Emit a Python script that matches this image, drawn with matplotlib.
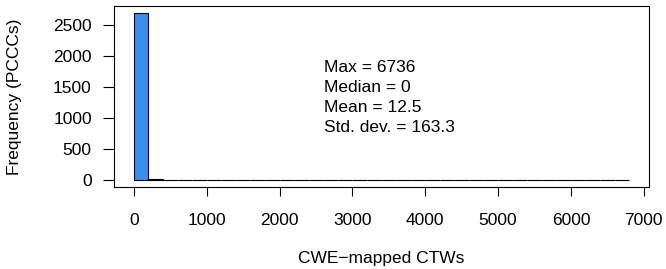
import matplotlib.pyplot as plt

plt.rcParams['font.family'] = ['Liberation Sans', 'DejaVu Sans']

# histogram bins of width 200 from 0 to 6800
bin_width = 200
bin_edges = list(range(0, 6800, bin_width))
counts = [2690, 25, 2, 2, 1, 1, 0, 1, 0, 1, 0, 1, 0, 0, 0, 0,
          1, 0, 0, 0, 0, 0, 0, 0, 0, 0, 0, 0, 0, 0, 0, 0, 0, 1]

stats_lines = ["Max = 6736", "Median = 0", "Mean = 12.5", "Std. dev. = 163.3"]
x_ticks = [0, 1000, 2000, 3000, 4000, 5000, 6000, 7000]
y_ticks = [0, 500, 1000, 1500, 2000, 2500]

fs = 12.5

fig = plt.figure(figsize=(6.66, 2.69), dpi=100)
ax = fig.add_axes([114 / 666, 1 - 187 / 269, (649 - 114) / 666, (187 - 6) / 269])

ax.bar(bin_edges, counts, width=bin_width, align="edge", color="#3a8ef0",
       edgecolor="black", linewidth=0.8)

ax.set_xlim(-272, 7072)
ax.set_ylim(-107.6, 2797.6)
ax.set_xticks(x_ticks)
ax.set_yticks(y_ticks)
ax.tick_params(axis="both", direction="out", width=0.8, labelsize=fs)
ax.tick_params(axis="y", length=8, pad=8)
ax.tick_params(axis="x", length=6.5, pad=12)
for s in ax.spines.values():
    s.set_linewidth(0.8)

ax.set_xlabel("CWE\u2212mapped CTWs", fontsize=fs)
ax.set_ylabel("Frequency (PCCCs)", fontsize=fs)
ax.xaxis.set_label_coords(0.5, -(258 - 187) / (187 - 6), transform=ax.transAxes)
ax.yaxis.set_label_coords(-(114 - 15) / (649 - 114), 0.5, transform=ax.transAxes)
ax.xaxis.label.set_va("center")
ax.yaxis.label.set_va("center")

y0 = 68
for i, line in enumerate(stats_lines):
    fig.text(324 / 666, 1 - (y0 + i * 20) / 269, line, fontsize=fs,
             ha="left", va="center")

fig.savefig("out.png", dpi=100)
